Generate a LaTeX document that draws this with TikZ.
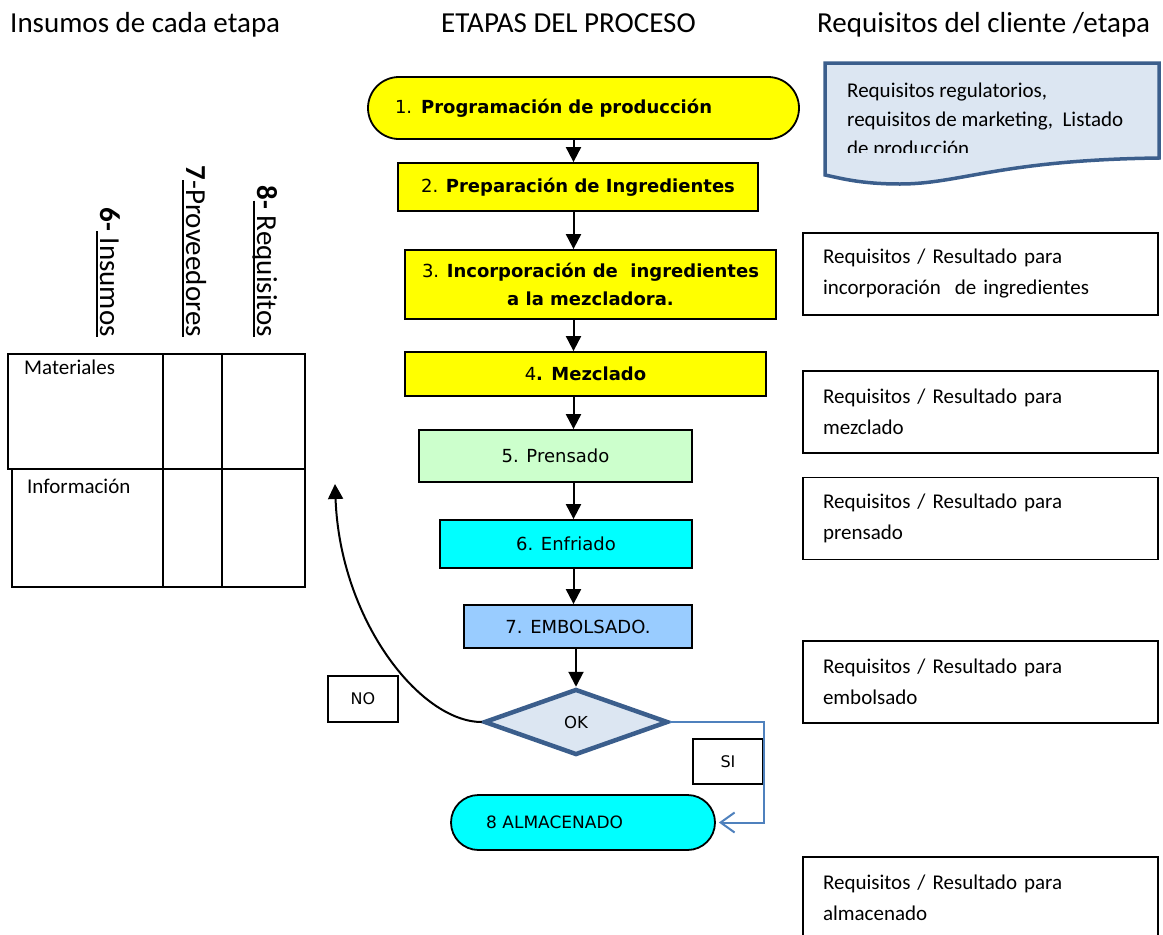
\documentclass[tikz,border=0pt]{standalone}
\usepackage{fontspec}
\setmainfont{Carlito}
\newfontfamily\vf{DejaVu Sans}
\usetikzlibrary{arrows.meta,shapes.geometric,calc}
\definecolor{yel}{HTML}{FFFF00}
\definecolor{lgreen}{HTML}{CCFFCC}
\definecolor{cyanf}{HTML}{00FFFF}
\definecolor{lblue}{HTML}{99CCFF}
\definecolor{pale}{HTML}{DCE6F2}
\definecolor{navy}{HTML}{3B5E8C}
\definecolor{siblue}{HTML}{4F81BD}
\newcommand\myul[1]{\setbox0\hbox{#1}\rlap{\rule[-4.5pt]{\wd0}{2.2pt}}\box0}
\tikzset{
  title/.style={inner sep=0pt, font=\fontsize{29}{35}\selectfont},
  vlab/.style={rotate=-90, anchor=base east, inner sep=0pt, font=\fontsize{29}{35}\selectfont},
  tbl/.style={line width=1.8pt},
  tbltext/.style={anchor=west, inner sep=0pt, font=\fontsize{21}{24}\selectfont},
  fbox/.style={draw, line width=1.8pt, font=\vf\fontsize{18}{28}\selectfont, inner sep=0pt, align=center},
  arr/.style={line width=2pt, -{Triangle[width=15pt,length=15pt]}},
  rbox/.style={draw, line width=1.8pt, minimum width=355pt, minimum height=82pt, text width=315pt, inner xsep=20pt, inner ysep=0pt, align=left, font=\fontsize{21}{31}\selectfont},
  smallbox/.style={draw, line width=1.8pt, minimum width=70pt, minimum height=46pt, inner sep=0pt, font=\vf\fontsize{16}{20}\selectfont},
  doc/.style={draw=navy, line width=3.5pt, fill=pale},
  siline/.style={draw=siblue, line width=2pt, -{Straight Barb[width=20pt,length=14pt,line width=2pt]}, shorten >=3pt},
  noline/.style={line width=2pt, -{Triangle[width=15pt,length=15pt]}}
}
\begin{document}
\begin{tikzpicture}[x=1pt,y=-1pt]
\path[use as bounding box] (0,0) rectangle (1163,935);

% titles
\node[title, anchor=base west] (t1) at (10,32) {Insumos de cada etapa};
\node[title, anchor=base west] (t2) at (441,32) {ETAPAS DEL PROCESO};
\node[title, anchor=base west] (t3) at (817,32) {Requisitos del cliente /etapa};

% vertical labels
\node[vlab] (v6) at (100,337) {\textbf{6-}\myul{\ Insumos}};
\node[vlab] (v7) at (186,337) {\textbf{7}\myul{-Proveedores}};
\node[vlab] (v8) at (257,337) {\textbf{8}\myul{\textbf{-} Requisitos}};

% table
\draw[tbl] (8,354) rectangle (305,469);
\draw[tbl] (12,469) rectangle (305,587);
\draw[tbl] (163,354) -- (163,587);
\draw[tbl] (222,354) -- (222,587);
\node[tbltext] (mat) at (24,367) {Materiales};
\node[tbltext] (inf) at (27,486) {Información};

% flowchart
\node[fbox, fill=yel, rounded corners=31pt, minimum width=431pt, minimum height=62pt, text width=431pt, align=left] (n1) at (583.5,108) {\hspace*{27pt}1. \textbf{Programación de producción}};
\node[fbox, fill=yel, minimum width=360pt, minimum height=48pt] (n2) at (578,187) {2. \textbf{Preparación de Ingredientes}};
\node[fbox, fill=yel, minimum width=371pt, minimum height=69pt] (n3) at (590.5,284.5) {3. \textbf{Incorporación de\ \ ingredientes}\\\textbf{a la mezcladora.}};
\node[fbox, fill=yel, minimum width=361pt, minimum height=44pt] (n4) at (585.5,374) {4\textbf{. Mezclado}};
\node[fbox, fill=lgreen, minimum width=273pt, minimum height=52pt] (n5) at (555.5,456) {5. Prensado};
\node[fbox, fill=cyanf, minimum width=252pt, minimum height=48pt] (n6) at (566,544) {6. Enfriado};
\node[fbox, fill=lblue, minimum width=228pt, minimum height=43pt] (n7) at (578,626.5) {7. EMBOLSADO.};
\node[diamond, draw=navy, line width=4.5pt, fill=pale, minimum width=184pt, minimum height=66pt, inner sep=0pt, font=\vf\fontsize{16.5}{20}\selectfont] (dia) at (576,722) {OK};
\node[fbox, fill=cyanf, rounded corners=27.5pt, minimum width=264pt, minimum height=55pt, text width=264pt, align=left, font=\vf\fontsize{17}{20}\selectfont] (n8) at (583,822.5) {\hspace*{35pt}8 ALMACENADO};

\node[smallbox] (no) at (363,699) {NO};
\node[smallbox, minimum height=45pt] (si) at (728,761.5) {SI};

\coordinate (ax) at (573.5,0);
\draw[arr] (n1.south -| ax) -- (n2.north -| ax);
\draw[arr] (n2.south -| ax) -- (n3.north -| ax);
\draw[arr] (n3.south -| ax) -- (n4.north -| ax);
\draw[arr] (n4.south -| ax) -- (n5.north -| ax);
\draw[arr] (n5.south -| ax) -- (n6.north -| ax);
\draw[arr] (n6.south -| ax) -- (n7.north -| ax);
\draw[arr] (n7.south -| dia.north) -- (dia.north);

\coordinate (sic) at (764,0);
\draw[siline] (dia.east) -- (dia.east -| sic) |- (n8.east);
\coordinate (notip) at (335,484);
\draw[noline] (dia.west) .. controls (420,722) and (340,620) .. (notip);

% document shape
\draw[doc] (825,63) -- (1159,63) -- (1159,158) .. controls (1000,160) and (960,184) .. (900,184) .. controls (860,184) and (840,178) .. (825,175) -- cycle;
\begin{scope}
\clip (828,66) rectangle (1156,152);
\node[anchor=north west, inner sep=0pt, align=left, font=\fontsize{21}{29}\selectfont] (doct) at (847,83) {Requisitos regulatorios,\\requisitos de marketing,\ \ Listado\\de producción};
\end{scope}

% right boxes
\node[rbox] (r1) at (980.5,274) {Requisitos / Resultado para\\incorporación\ \ de ingredientes};
\node[rbox] (r2) at (980.5,412) {Requisitos / Resultado para\\mezclado};
\node[rbox] (r3) at (980.5,518.5) {Requisitos / Resultado para\\prensado};
\node[rbox] (r4) at (980.5,682) {Requisitos / Resultado para\\embolsado};
\node[rbox] (r5) at (980.5,898) {Requisitos / Resultado para\\almacenado};
\end{tikzpicture}
\end{document}
